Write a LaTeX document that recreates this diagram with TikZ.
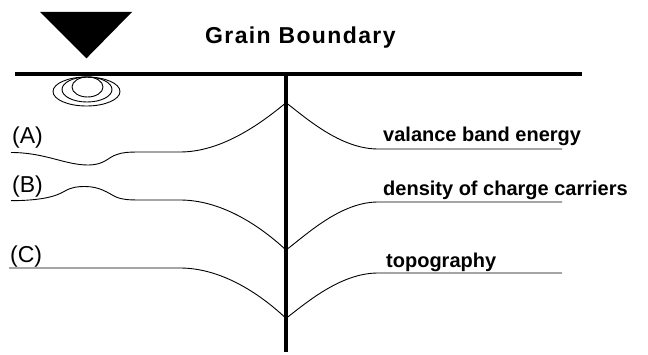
\documentclass[tikz,border=0pt]{standalone}
\usepackage{fontspec}
\setmainfont{Liberation Sans}
\newfontfamily\trackfont[LetterSpace=6]{Liberation Sans}
\usetikzlibrary{calc}

\begin{document}
\begin{tikzpicture}[x=1pt, y=1pt, thin,
    curve/.style={line width=0.9pt},
    wall/.style={line width=4pt},
    lbl/.style={inner sep=0pt, anchor=base west}]
  \useasboundingbox (0,0) rectangle (648,354);

  \coordinate (S1) at (15,280);
  \coordinate (S2) at (582,280);
  \coordinate (G1) at (286,280);
  \coordinate (G2) at (286,2);
  \coordinate (CA) at (286,251.3);
  \coordinate (CB) at (286,104);
  \coordinate (CC) at (286,35.7);

  % tip and surface
  \fill (40,342) -- (132,342) -- (86.5,295.7) -- cycle;
  \draw[wall] (S1) -- (S2);
  \draw[wall] (G1) -- (G2);
  \draw[curve] (87.5,267) ellipse[x radius=15.5, y radius=10];
  \draw[curve] (87,264.5) ellipse[x radius=25, y radius=12.5];
  \draw[curve] (86.5,262.5) ellipse[x radius=33.5, y radius=14.5];

  \node[lbl, font=\trackfont\bfseries\fontsize{23}{27}\selectfont] (title) at (205,310.7) {Grain Boundary};

  % (A)
  \draw[curve] (11,201.5) .. controls (45,201.5) and (65,189) .. (88,189)
    .. controls (105,189) and (108,197) .. (117,199.5)
    .. controls (122,201.5) and (128,202) .. (140,202) -- (180,202)
    .. controls (220,202) and (258,228) .. (CA);
  \draw[curve] (CA) .. controls (305,237) and (340,205) .. (378,205) -- (562,205);
  % (B)
  \draw[curve] (11,153.3) .. controls (40,153.5) and (55,157) .. (65,163)
    .. controls (72,167) and (78,167.5) .. (85,167.5)
    .. controls (100,167.5) and (108,161) .. (116,157)
    .. controls (122,154.5) and (128,154) .. (140,154) -- (180,154)
    .. controls (220,154) and (258,130) .. (CB);
  \draw[curve] (CB) .. controls (305,118) and (340,152) .. (378,152) -- (562,152);
  % (C)
  \draw[curve] (9,86) -- (180,86) .. controls (220,86) and (258,62) .. (CC);
  \draw[curve] (CC) .. controls (305,50) and (340,81) .. (378,81) -- (562,81);

  \node[lbl, font=\fontsize{23}{27}\selectfont] (la) at (12,211) {(A)};
  \node[lbl, font=\fontsize{23}{27}\selectfont] (lb) at (12,162) {(B)};
  \node[lbl, font=\fontsize{23}{27}\selectfont] (lc) at (10,92) {(C)};

  \node[lbl, font=\bfseries\fontsize{20}{24}\selectfont] (va) at (383,212) {valance band energy};
  \node[lbl, font=\bfseries\fontsize{20}{24}\selectfont] (dc) at (383,159) {density of charge carriers};
  \node[lbl, font=\bfseries\fontsize{20}{24}\selectfont] (tp) at (386,87) {topography};
\end{tikzpicture}
\end{document}
